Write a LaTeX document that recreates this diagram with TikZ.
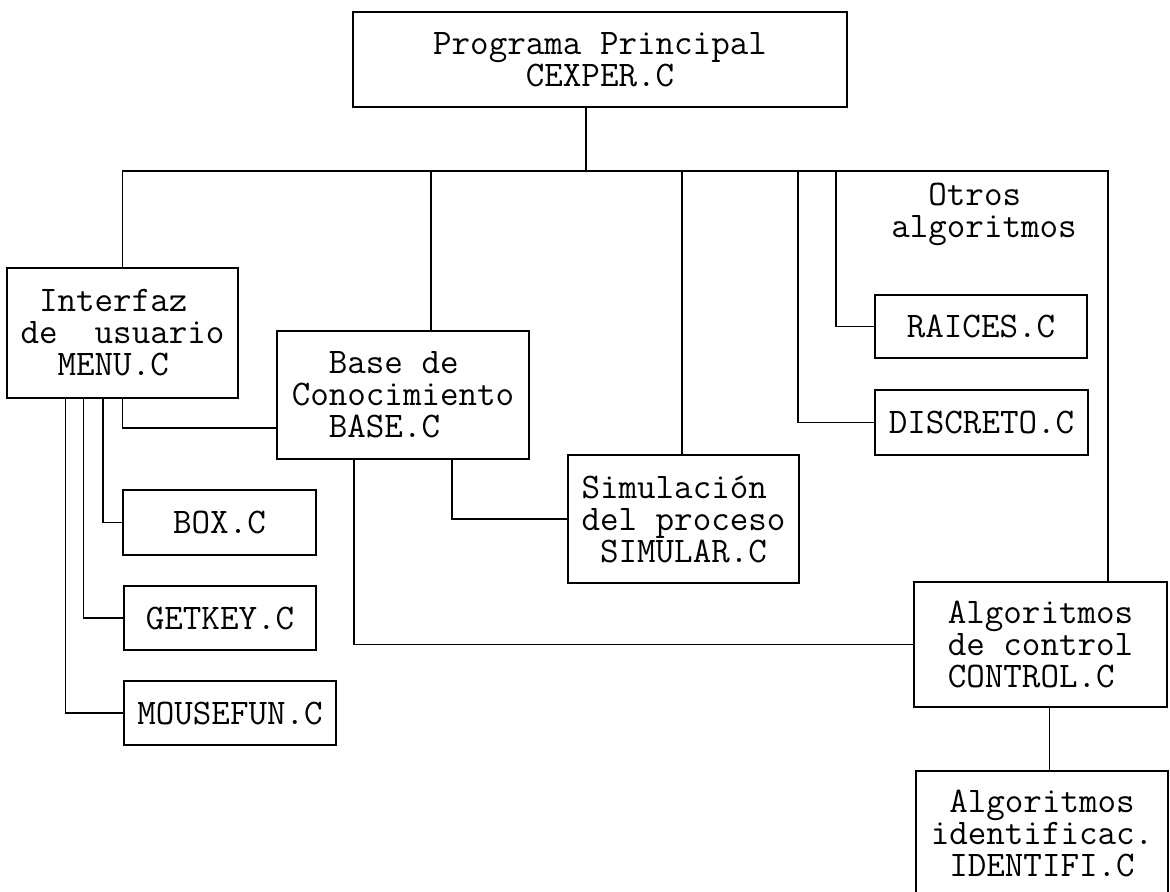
\documentclass[tikz,border=0pt]{standalone}
\usetikzlibrary{calc}
\begin{document}
\begin{tikzpicture}[x=0.5pt,y=-0.5pt,
  modbox/.style={draw, line width=0.9pt, inner sep=0pt, align=left,
    font=\ttfamily\fontsize{18}{16}\selectfont},
  label text/.style={inner sep=0pt, align=left,
    font=\ttfamily\fontsize{18}{16}\selectfont},
  link/.style={line width=0.7pt}]
% page frame
\useasboundingbox (0,0) rectangle (1170,892);
\fill[white] (0,0) rectangle (1170,892);
\clip (0,0) rectangle (1170,892);

% modules
\node[modbox, minimum width=247pt, minimum height=47.5pt] (main) at (600,59.5)
  {Programa Principal\\~~~~~CEXPER.C};
\node[modbox, minimum width=115.5pt, minimum height=65pt] (menu) at (122.5,333)
  {~Interfaz\\de~~usuario\\~~MENU.C};
\node[modbox, minimum width=126pt, minimum height=64pt] (base) at (403,395)
  {~~Base de\\Conocimiento\\~~BASE.C};
\node[modbox, minimum width=115.5pt, minimum height=64pt] (sim) at (683.5,519)
  {Simulación\\del proceso\\~SIMULAR.C};
\node[modbox, minimum width=106pt, minimum height=31.5pt] (raices) at (981,326.5)
  {RAICES.C};
\node[modbox, minimum width=106.5pt, minimum height=32.5pt] (discreto) at (981.5,422.5)
  {DISCRETO.C};
\node[modbox, minimum width=96.5pt, minimum height=32.5pt] (boxc) at (219.5,522.5)
  {BOX.C};
\node[modbox, minimum width=96pt, minimum height=32pt] (getkey) at (220,618)
  {GETKEY.C};
\node[modbox, minimum width=106pt, minimum height=32pt] (mousefun) at (230,713)
  {MOUSEFUN.C};
\node[modbox, minimum width=126.5pt, minimum height=62.5pt] (control) at (1040.5,644.5)
  {Algoritmos\\de control\\CONTROL.C};
\node[modbox, minimum width=126pt, minimum height=62.5pt] (identifi) at (1042,833.5)
  {~Algoritmos\\identificac.\\~IDENTIFI.C};
\node[label text] (otros) at (984,214) {~~Otros\\algoritmos};

% bus coordinates
\coordinate (tap) at (586,171);
\coordinate (busR) at (1108,171);
\coordinate (dropBase) at (431,171);
\coordinate (dropSim) at (682,171);
\coordinate (dropDisc) at (798,171);
\coordinate (dropRaic) at (836,171);

% main bus
\draw[link] (tap |- main.south) -- (tap);
\draw[link] (menu.north) |- (busR) -- (busR |- control.north);
\draw[link] (dropBase) -- (dropBase |- base.north);
\draw[link] (dropSim) -- (dropSim |- sim.north);
\draw[link] (dropDisc) |- (discreto.west);
\draw[link] (dropRaic) |- (raices.west);

% user interface branches
\draw[link] (menu.south) |- ([yshift=-16.5pt]base.west);
\draw[link] ([xshift=-9.75pt]menu.south) |- (boxc.west);
\draw[link] ([xshift=-19.5pt]menu.south) |- (getkey.west);
\draw[link] ([xshift=-28.5pt]menu.south) |- (mousefun.west);

% knowledge base branches
\draw[link] ([xshift=24.5pt]base.south) |- (sim.west);
\draw[link] ([xshift=-24.5pt]base.south) |- (control.west);

% control to identification
\coordinate (cs) at ([xshift=4.5pt]control.south);
\draw[link] (cs) -- (cs |- identifi.north);
\end{tikzpicture}
\end{document}
